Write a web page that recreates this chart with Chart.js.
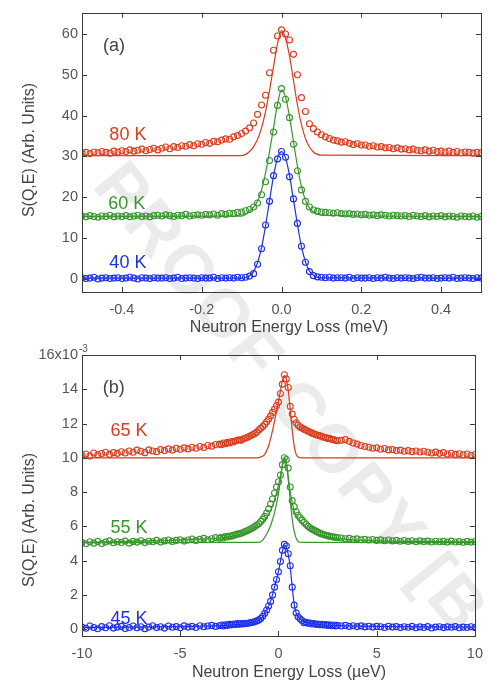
<!DOCTYPE html>
<html><head><meta charset="utf-8">
<script src="https://cdn.jsdelivr.net/npm/chart.js@4.4.1/dist/chart.umd.min.js"></script>
<style>
html,body{margin:0;padding:0;background:#fff;width:492px;height:684px;overflow:hidden;position:relative;font-family:"Liberation Sans",Arial,sans-serif;}
#wm{position:absolute;left:140px;top:146px;transform-origin:0 0;transform:rotate(51deg);font:bold 68px "Liberation Sans",Arial,sans-serif;color:#ebebeb;letter-spacing:3px;white-space:nowrap;}
canvas{position:absolute;left:0;}
</style></head><body>
<div id="wm">PROOF COPY [B</div>
<canvas id="ca" width="492" height="340" style="top:0"></canvas>
<canvas id="cb" width="492" height="344" style="top:340px"></canvas>
<script>
// ---------- Panel (a) : energy in meV ----------
const xA = [-0.50,-0.49,-0.48,-0.47,-0.46,-0.45,-0.44,-0.43,-0.42,-0.41,
-0.40,-0.39,-0.38,-0.37,-0.36,-0.35,-0.34,-0.33,-0.32,-0.31,
-0.30,-0.29,-0.28,-0.27,-0.26,-0.25,-0.24,-0.23,-0.22,-0.21,
-0.20,-0.19,-0.18,-0.17,-0.16,-0.15,-0.14,-0.13,-0.12,-0.11,
-0.10,-0.09,-0.08,-0.07,-0.06,-0.05,-0.04,-0.03,-0.02,-0.01,
0.00,
0.01,0.02,0.03,0.04,0.05,0.06,0.07,0.08,0.09,0.10,
0.11,0.12,0.13,0.14,0.15,0.16,0.17,0.18,0.19,0.20,
0.21,0.22,0.23,0.24,0.25,0.26,0.27,0.28,0.29,0.30,
0.31,0.32,0.33,0.34,0.35,0.36,0.37,0.38,0.39,0.40,
0.41,0.42,0.43,0.44,0.45,0.46,0.47,0.48,0.49,0.50];
const blue40K = [0.3,0.1,0.2,0.4,0.0,0.2,0.3,0.1,0.2,0.3,
0.1,0.2,0.4,0.2,0.0,0.3,0.2,0.1,0.3,0.2,
0.2,0.3,0.1,0.2,0.4,0.1,0.2,0.3,0.2,0.1,
0.3,0.2,0.2,0.4,0.1,0.3,0.2,0.3,0.2,0.4,
0.3,0.4,0.7,1.3,3.6,7.4,13.2,19.0,25.3,29.4,
31.2,
29.8,25.0,19.6,13.6,8.0,4.1,1.8,0.8,0.5,0.4,
0.3,0.4,0.2,0.3,0.3,0.2,0.4,0.1,0.3,0.2,
0.2,0.3,0.1,0.3,0.2,0.4,0.2,0.1,0.3,0.2,
0.3,0.2,0.1,0.3,0.4,0.2,0.2,0.3,0.1,0.2,
0.3,0.2,0.4,0.1,0.2,0.3,0.2,0.1,0.3,0.2];
const green60K = [15.4,15.2,15.5,15.3,15.1,15.4,15.3,15.6,15.2,15.4,
15.3,15.5,15.2,15.4,15.6,15.3,15.4,15.2,15.5,15.6,
15.4,15.7,15.5,15.3,15.6,15.5,15.8,15.4,15.6,15.7,
15.6,15.8,15.7,15.9,15.6,16.0,15.8,16.1,16.0,16.3,
16.4,16.7,17.0,17.6,18.6,20.6,23.8,29.0,36.0,42.5,
46.6,
44.0,39.5,33.0,26.5,21.8,19.0,17.6,16.9,16.6,16.4,
16.3,16.2,16.1,16.2,16.0,15.9,16.0,15.8,15.9,15.7,
15.8,15.6,15.7,15.5,15.7,15.6,15.4,15.6,15.5,15.4,
15.5,15.3,15.6,15.4,15.3,15.5,15.2,15.4,15.3,15.5,
15.2,15.4,15.3,15.1,15.4,15.3,15.2,15.4,15.1,15.3];
const red80K = [30.8,31.0,30.7,31.1,30.9,31.2,31.0,30.8,31.3,31.1,
31.4,31.2,31.6,31.3,31.5,31.8,31.4,31.7,32.0,31.6,
32.0,32.3,31.9,32.4,32.2,32.6,32.5,32.9,32.6,33.1,
33.0,33.4,33.2,33.7,33.6,34.0,34.3,34.2,34.8,35.1,
35.6,36.2,37.0,38.2,40.3,42.6,45.0,50.5,56.0,59.5,
61.0,
60.0,58.5,55.0,50.0,44.4,41.0,38.0,36.8,36.0,35.3,
34.8,34.4,34.0,33.8,33.5,33.6,33.2,32.9,33.1,32.8,
32.8,32.5,32.6,32.3,32.4,32.1,32.2,31.9,32.1,31.8,
31.9,31.6,31.8,31.5,31.4,31.6,31.3,31.5,31.2,31.3,
31.1,31.3,31.0,31.2,30.9,31.1,31.0,30.8,31.0,30.9];
const fitXA = [-0.50,-0.10,-0.09,-0.08,-0.07,-0.06,-0.05,-0.04,-0.03,-0.02,-0.01,0.00,0.01,0.02,0.03,0.04,0.05,0.06,0.07,0.08,0.09,0.10,0.50];
const fitBlue40K = [0.2,0.2,0.3,0.8,1.8,4.0,7.6,13.0,19.2,25.2,29.6,31.2,29.7,25.4,19.4,13.3,7.9,4.2,1.9,0.9,0.4,0.25,0.2];
const fitGreen60K = [15.3,15.4,15.8,16.6,17.5,19.0,21.8,26.0,31.2,37.0,42.8,46.3,44.6,39.8,33.6,27.6,22.6,19.3,17.4,16.4,15.9,15.6,15.3];
const fitRed80K = [30.2,30.2,30.5,31.2,32.4,34.2,37.0,41.0,46.2,52.0,57.6,60.8,59.0,54.6,48.6,42.6,37.8,34.4,32.3,31.1,30.5,30.3,30.2];
const xTicksA = [-0.4,-0.2,0.0,0.2,0.4];
const yTicksA = [0,10,20,30,40,50,60];

// ---------- Panel (b) : energy in µeV, intensity in 10^-3 ----------
const xB = [-10.0,-9.8,-9.6,-9.4,-9.2,-9.0,-8.8,-8.6,-8.4,-8.2,
-8.0,-7.8,-7.6,-7.4,-7.2,-7.0,-6.8,-6.6,-6.4,-6.2,
-6.0,-5.8,-5.6,-5.4,-5.2,-5.0,-4.8,-4.6,-4.4,-4.2,
-4.0,-3.8,-3.6,-3.4,-3.2,
-3.0,-2.9,-2.8,-2.7,-2.6,-2.5,-2.4,-2.3,-2.2,-2.1,
-2.0,-1.9,-1.8,-1.7,-1.6,-1.5,-1.4,-1.3,-1.2,-1.1,
-1.0,-0.9,-0.8,-0.7,-0.6,-0.5,-0.4,-0.3,-0.2,-0.1,
0.0,0.1,0.2,0.3,0.4,0.5,0.6,0.7,0.8,0.9,
1.0,1.1,1.2,1.3,1.4,1.5,1.6,1.7,1.8,1.9,
2.0,2.1,2.2,2.3,2.4,2.5,2.6,2.7,2.8,2.9,3.0,
3.2,3.4,3.6,3.8,4.0,4.2,4.4,4.6,4.8,5.0,
5.2,5.4,5.6,5.8,6.0,6.2,6.4,6.6,6.8,7.0,
7.2,7.4,7.6,7.8,8.0,8.2,8.4,8.6,8.8,9.0,
9.2,9.4,9.6,9.8,10.0];
const blue45K = [0.12,0.05,0.18,0.10,0.02,0.15,0.08,0.20,0.06,0.12,
0.16,0.04,0.10,0.18,0.08,0.14,0.03,0.12,0.20,0.09,
0.14,0.06,0.18,0.11,0.15,0.08,0.19,0.12,0.16,0.10,
0.20,0.14,0.18,0.22,0.16,
0.20,0.24,0.18,0.26,0.22,0.28,0.25,0.30,0.27,0.32,
0.28,0.32,0.30,0.34,0.33,0.36,0.38,0.40,0.44,0.48,
0.54,0.62,0.75,0.93,1.12,1.35,1.62,2.00,2.45,2.90,
3.35,3.95,4.60,4.95,4.85,4.40,3.70,2.45,1.40,0.95,
0.72,0.60,0.50,0.38,0.40,0.34,0.36,0.30,0.33,0.28,
0.30,0.26,0.29,0.24,0.27,0.22,0.25,0.20,0.24,0.19,0.22,
0.18,0.22,0.16,0.20,0.15,0.19,0.13,0.17,0.12,0.16,
0.14,0.10,0.17,0.12,0.15,0.09,0.14,0.11,0.16,0.08,
0.13,0.10,0.15,0.07,0.12,0.14,0.09,0.13,0.11,0.15,
0.08,0.12,0.10,0.14,0.09];
const green55K = [5.05,4.98,5.10,5.02,5.12,5.00,5.08,5.15,5.04,5.10,
5.06,5.14,5.02,5.12,5.08,5.16,5.05,5.13,5.10,5.18,
5.08,5.15,5.20,5.12,5.18,5.22,5.14,5.20,5.26,5.18,
5.24,5.30,5.22,5.28,5.34,
5.30,5.36,5.32,5.40,5.38,5.44,5.42,5.48,5.50,5.55,
5.56,5.60,5.64,5.70,5.74,5.80,5.86,5.92,6.00,6.08,
6.15,6.28,6.42,6.58,6.78,7.02,7.30,7.60,7.95,8.30,
8.60,9.00,9.60,10.00,9.90,9.40,8.30,7.50,7.15,6.85,
6.65,6.50,6.36,6.24,6.12,6.00,5.92,5.84,5.78,5.72,
5.66,5.60,5.56,5.52,5.48,5.46,5.42,5.40,5.38,5.36,5.34,
5.32,5.28,5.30,5.25,5.27,5.22,5.24,5.20,5.23,5.18,
5.21,5.16,5.20,5.15,5.18,5.13,5.17,5.12,5.16,5.10,
5.15,5.11,5.14,5.09,5.13,5.10,5.12,5.08,5.14,5.09,
5.11,5.07,5.12,5.08,5.10];
const red65K = [10.15,10.22,10.10,10.28,10.18,10.25,10.32,10.20,10.30,10.26,
10.35,10.28,10.40,10.32,10.45,10.38,10.30,10.46,10.40,10.36,
10.48,10.42,10.52,10.45,10.55,10.50,10.58,10.52,10.62,10.56,
10.66,10.60,10.72,10.68,10.78,
10.80,10.76,10.86,10.82,10.90,10.86,10.95,10.92,10.98,11.02,
11.05,11.02,11.10,11.14,11.18,11.24,11.30,11.36,11.42,11.50,
11.62,11.72,11.82,11.96,12.10,12.26,12.45,12.65,12.85,13.05,
13.25,13.75,14.30,14.85,14.60,14.10,13.00,12.55,12.25,12.05,
11.90,11.80,11.74,11.66,11.62,11.55,11.50,11.44,11.40,11.36,
11.32,11.28,11.26,11.20,11.18,11.12,11.14,11.08,11.06,11.02,11.00,
11.02,11.06,10.96,10.86,10.80,10.72,10.66,10.62,10.56,10.58,
10.50,10.54,10.46,10.48,10.42,10.45,10.38,10.42,10.36,10.40,
10.34,10.38,10.32,10.28,10.33,10.26,10.30,10.22,10.27,10.20,
10.24,10.18,10.22,10.15,10.19];
const fitXBlueB = [-10,-3,-2,-1.5,-1,-0.8,-0.6,-0.4,-0.2,0,0.1,0.2,0.3,0.4,0.5,0.6,0.7,0.8,0.9,1.0,1.2,1.5,2,3,10];
const fitBlue45K = [0.1,0.2,0.28,0.36,0.52,0.72,1.1,1.62,2.45,3.35,3.95,4.55,4.9,4.8,4.35,3.6,2.45,1.45,0.95,0.72,0.5,0.36,0.28,0.2,0.12];
const fitXGreenB = [-10,-4,-3,-2,-1.5,-1,-0.6,-0.3,0,0.2,0.3,0.4,0.6,0.8,1.0,1.5,2,3,4,10];
const fitGreen55K = [5.05,5.25,5.32,5.5,5.68,6.0,6.5,7.2,8.4,9.5,9.95,9.7,8.0,6.9,6.4,5.85,5.55,5.3,5.2,5.1];
const fitXGreenB2 = [-10,-1.0,-0.8,-0.6,-0.4,-0.2,0.0,0.1,0.2,0.3,0.4,0.5,0.6,0.7,0.8,0.9,1.0,1.2,10];
const resGreen55K = [5.05,5.07,5.2,5.55,6.05,6.8,7.9,8.7,9.6,10.0,9.7,8.7,7.5,6.4,5.7,5.3,5.12,5.06,5.05];
const fitXRedB = [-10,-1.1,-0.9,-0.7,-0.5,-0.3,-0.1,0.1,0.2,0.3,0.4,0.5,0.6,0.7,0.8,0.9,1.0,1.2,10];
const fitRed65K = [10.0,10.0,10.05,10.2,10.7,11.6,12.7,13.9,14.5,14.8,14.6,13.9,12.8,11.6,10.7,10.2,10.05,10.0,10.0];
const xTicksB = [-10,-5,0,5,10];
const yTicksB = [0,2,4,6,8,10,12,14,16];

// ---------- styling ----------
const RED='rgb(216,60,30)', GREEN='rgb(56,148,46)', BLUE='rgb(30,48,230)';
const FONT='"Liberation Sans", Arial, Helvetica, sans-serif';
const TICKC='#555', AXC='#3a3a3a';

const pts=(xs,ys)=>xs.map((x,i)=>({x:x,y:ys[i]}));
function dataDS(xs,ys,c){return {data:pts(xs,ys),borderColor:c,backgroundColor:'rgba(0,0,0,0)',pointRadius:3,pointBorderWidth:1.1,pointStyle:'circle',showLine:false};}
function fitDS(xs,ys,c){return {data:pts(xs,ys),borderColor:c,borderWidth:1.2,pointRadius:0,showLine:true,cubicInterpolationMode:'monotone',fill:false};}

function decor(o){return {id:'decor',afterDraw(chart){
  const ctx=chart.ctx,a=chart.chartArea,xs=chart.scales.x,ys=chart.scales.y;
  ctx.save();
  ctx.strokeStyle=AXC;ctx.lineWidth=1;
  ctx.strokeRect(Math.round(a.left)+0.5,Math.round(a.top)+0.5,Math.round(a.right-a.left),Math.round(a.bottom-a.top));
  ctx.beginPath();
  o.xt.forEach(v=>{const p=Math.round(xs.getPixelForValue(v))+0.5;ctx.moveTo(p,a.bottom);ctx.lineTo(p,a.bottom-5);ctx.moveTo(p,a.top);ctx.lineTo(p,a.top+5);});
  o.yt.forEach(v=>{const p=Math.round(ys.getPixelForValue(v))+0.5;ctx.moveTo(a.left,p);ctx.lineTo(a.left+5,p);ctx.moveTo(a.right,p);ctx.lineTo(a.right-5,p);});
  ctx.stroke();
  ctx.fillStyle='#444';ctx.font='16px '+FONT;ctx.textAlign='center';ctx.textBaseline='middle';
  ctx.fillText(o.xTitle,o.xTitlePos[0],o.xTitlePos[1]);
  ctx.save();ctx.translate(o.yTitlePos[0],o.yTitlePos[1]);ctx.rotate(-Math.PI/2);ctx.fillText(o.yTitle,0,0);ctx.restore();
  ctx.font='18px '+FONT;
  o.labels.forEach(l=>{ctx.fillStyle=l.c;ctx.fillText(l.t,xs.getPixelForValue(l.x),ys.getPixelForValue(l.y));});
  if(o.sup){ctx.fillStyle=TICKC;ctx.font='10px '+FONT;ctx.textAlign='left';ctx.fillText(o.sup.t,o.sup.x,o.sup.y);}
  ctx.restore();
}};}

function makeChart(id,datasets,xr,yr,xt,yt,fmtX,fmtY,padTop,xH,o){
  return new Chart(document.getElementById(id),{
    type:'scatter',
    data:{datasets:datasets},
    options:{responsive:false,animation:false,devicePixelRatio:1,
      layout:{padding:{top:padTop,right:11,left:0,bottom:0}},
      plugins:{legend:{display:false},tooltip:{enabled:false}},
      scales:{
        x:{type:'linear',min:xr[0],max:xr[1],grid:{display:false,drawTicks:false},border:{display:false},
           ticks:{font:{family:FONT,size:14.5},color:TICKC,padding:9,callback:fmtX,maxRotation:0},
           afterBuildTicks:s=>{s.ticks=xt.map(v=>({value:v}));},afterFit:s=>{s.height=xH;}},
        y:{type:'linear',min:yr[0],max:yr[1],grid:{display:false,drawTicks:false},border:{display:false},
           ticks:{font:{family:FONT,size:14.5},color:TICKC,padding:4,callback:fmtY},
           afterBuildTicks:s=>{s.ticks=yt.map(v=>({value:v}));},afterFit:s=>{s.width=82;}}
      }},
    plugins:[decor(o)]
  });
}

makeChart('ca',[
  dataDS(xA,red80K,RED),dataDS(xA,green60K,GREEN),dataDS(xA,blue40K,BLUE),
  fitDS(fitXA,fitRed80K,RED),fitDS(fitXA,fitGreen60K,GREEN),fitDS(fitXA,fitBlue40K,BLUE)
],[-0.5,0.5],[-3.2,65.2],xTicksA,yTicksA,v=>Number(v).toFixed(1),v=>String(v),9,48,{
  xt:xTicksA,yt:yTicksA,xTitle:'Neutron Energy Loss (meV)',xTitlePos:[289,328],
  yTitle:'S(Q,E) (Arb. Units)',yTitlePos:[30,150],
  labels:[{t:'(a)',x:-0.42,y:57,c:'#444'},{t:'80 K',x:-0.385,y:35.3,c:RED},{t:'60 K',x:-0.388,y:18.4,c:GREEN},{t:'40 K',x:-0.385,y:3.9,c:BLUE}]
});

makeChart('cb',[
  dataDS(xB,red65K,RED),dataDS(xB,green55K,GREEN),dataDS(xB,blue45K,BLUE),
  fitDS(fitXRedB,fitRed65K,RED),fitDS(fitXGreenB,fitGreen55K,GREEN),fitDS(fitXGreenB2,resGreen55K,GREEN),fitDS(fitXBlueB,fitBlue45K,BLUE)
],[-10,10],[-0.4,16],xTicksB,yTicksB,v=>String(v),v=>(v===16?'16x10':String(v)),15,48,{
  xt:xTicksB,yt:yTicksB,xTitle:'Neutron Energy Loss (\u00b5eV)',xTitlePos:[289,333],
  yTitle:'S(Q,E) (Arb. Units)',yTitlePos:[30,180],
  labels:[{t:'(b)',x:-8.38,y:14.1,c:'#444'},{t:'65 K',x:-7.61,y:11.56,c:RED},{t:'55 K',x:-7.61,y:5.9,c:GREEN},{t:'45 K',x:-7.61,y:0.6,c:BLUE}],
  sup:{t:'-3',x:79,y:9}
});
</script>
</body></html>
